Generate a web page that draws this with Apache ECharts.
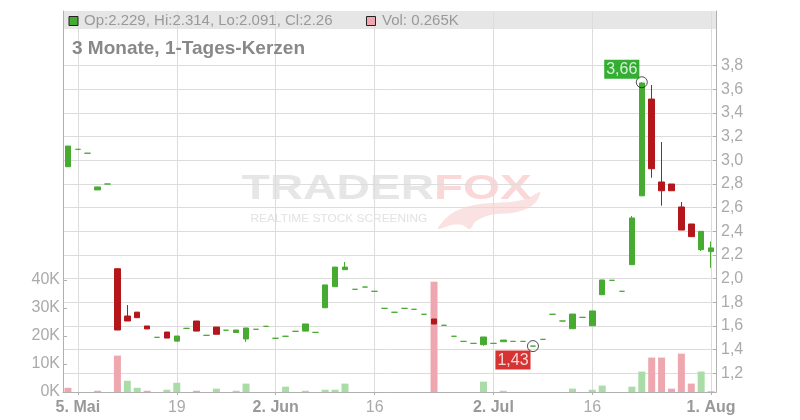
<!DOCTYPE html>
<html><head><meta charset="utf-8">
<script src="https://cdn.jsdelivr.net/npm/echarts@6/dist/echarts.min.js"></script>
<style>html,body{margin:0;padding:0;background:#fff}#c{width:800px;height:420px}</style>
</head><body><div id="c"></div>
<script>
// ---- DATA ----
const dates = [
 '2025-05-02',
 '2025-05-05','2025-05-06','2025-05-07','2025-05-08','2025-05-09',
 '2025-05-12','2025-05-13','2025-05-14','2025-05-15','2025-05-16',
 '2025-05-19','2025-05-20','2025-05-21','2025-05-22','2025-05-23',
 '2025-05-26','2025-05-27','2025-05-28','2025-05-29','2025-05-30',
 '2025-06-02','2025-06-03','2025-06-04','2025-06-05','2025-06-06',
 '2025-06-09','2025-06-10','2025-06-11','2025-06-12','2025-06-13',
 '2025-06-16','2025-06-17','2025-06-18','2025-06-19','2025-06-20',
 '2025-06-23','2025-06-24','2025-06-25','2025-06-26','2025-06-27',
 '2025-06-30','2025-07-01','2025-07-02','2025-07-03','2025-07-04',
 '2025-07-07','2025-07-08','2025-07-09','2025-07-10','2025-07-11',
 '2025-07-14','2025-07-15','2025-07-16','2025-07-17','2025-07-18',
 '2025-07-21','2025-07-22','2025-07-23','2025-07-24','2025-07-25',
 '2025-07-28','2025-07-29','2025-07-30','2025-07-31','2025-08-01'
];
const opens = [
 2.946,
 3.093,3.060,2.750,2.800,2.084,
 1.684,1.717,1.600,1.504,1.549,
 1.472,1.580,1.642,1.521,1.591,
 1.564,1.545,1.490,1.572,1.597,
 1.496,1.513,1.555,1.557,1.546,
 1.754,1.932,2.076,1.910,1.929,
 1.893,1.749,1.716,1.749,1.741,
 1.699,1.659,1.606,1.513,1.470,
 1.453,1.442,1.453,1.467,1.470,
 1.470,1.430,1.487,1.699,1.642,
 1.577,1.673,1.602,1.864,1.986,
 1.893,2.118,2.700,3.518,2.817,
 2.800,2.606,2.462,2.245,2.229
];
const closes = [
 3.121,
 3.093,3.060,2.775,2.800,1.566,
 1.642,1.670,1.575,1.504,1.498,
 1.515,1.580,1.557,1.521,1.530,
 1.564,1.566,1.583,1.572,1.597,
 1.496,1.513,1.555,1.617,1.546,
 1.947,2.098,2.098,1.910,1.929,
 1.893,1.749,1.716,1.749,1.741,
 1.699,1.617,1.606,1.513,1.470,
 1.453,1.507,1.453,1.481,1.470,
 1.470,1.430,1.487,1.699,1.642,
 1.701,1.673,1.727,1.989,1.986,
 1.893,2.513,3.654,2.929,2.743,
 2.743,2.411,2.355,2.400,2.260
];
const lows = [
 2.946,
 3.093,3.060,2.750,2.800,1.566,
 1.642,1.670,1.575,1.504,1.498,
 1.472,1.580,1.557,1.521,1.530,
 1.564,1.545,1.465,1.572,1.597,
 1.496,1.513,1.555,1.557,1.546,
 1.754,1.932,2.076,1.910,1.929,
 1.893,1.749,1.716,1.749,1.741,
 1.699,1.617,1.606,1.513,1.470,
 1.453,1.433,1.453,1.467,1.470,
 1.470,1.430,1.487,1.699,1.642,
 1.577,1.673,1.602,1.864,1.986,
 1.893,2.118,2.700,2.853,2.617,
 2.743,2.411,2.355,2.234,2.091
];
const highs = [
 3.121,
 3.093,3.060,2.775,2.800,2.084,
 1.777,1.717,1.600,1.504,1.549,
 1.515,1.580,1.642,1.521,1.591,
 1.564,1.566,1.583,1.572,1.597,
 1.496,1.513,1.555,1.617,1.546,
 1.947,2.098,2.141,1.910,1.929,
 1.893,1.749,1.716,1.749,1.741,
 1.699,1.659,1.606,1.513,1.470,
 1.453,1.507,1.453,1.481,1.470,
 1.470,1.430,1.487,1.699,1.642,
 1.701,1.673,1.727,1.989,1.986,
 1.893,2.530,3.660,3.637,3.155,
 2.800,2.648,2.462,2.400,2.314
];
// volume in thousands (K), split by bar colour group
const volumeDown = [
 ['2025-05-02',1.5],['2025-05-07',0.45],['2025-05-09',13.0],['2025-05-14',0.45],
 ['2025-05-21',0.45],['2025-06-24',39.4],['2025-07-24',12.3],['2025-07-25',12.3],
 ['2025-07-28',1.2],['2025-07-29',13.7],['2025-07-30',3.0],['2025-08-01',0.265]
];
const volumeUp = [
 ['2025-05-12',4.0],['2025-05-13',1.5],['2025-05-16',0.8],['2025-05-19',3.3],
 ['2025-05-23',1.2],['2025-05-27',0.45],['2025-05-28',3.0],['2025-06-03',1.9],
 ['2025-06-05',0.45],['2025-06-09',0.8],['2025-06-10',0.8],['2025-06-11',3.0],
 ['2025-07-01',3.7],['2025-07-03',0.45],['2025-07-14',1.2],['2025-07-16',0.8],
 ['2025-07-17',2.3],['2025-07-22',1.9],['2025-07-23',7.3],['2025-07-31',7.3]
];
const xTickDates  = ['2025-05-05','2025-05-19','2025-06-02','2025-06-16','2025-07-02','2025-07-16','2025-08-01'];
const xTickLabels = ['5. Mai','19','2. Jun','16','2. Jul','16','1. Aug'];
const highMark = ['2025-07-23', 3.66, '3,66'];
const lowMark  = ['2025-07-08', 1.43, '1,43'];
const legendText = 'Op:2.229, Hi:2.314, Lo:2.091, Cl:2.26';
const volText = 'Vol: 0.265K';
const titleText = '3 Monate, 1-Tages-Kerzen';

// ---- BUILD ----
const FONT = '"Liberation Sans", Arial, Helvetica, sans-serif';
const GREEN = '#47ab31', RED = '#b3171b', VPINK = '#eea7ae', VGREEN = '#aadca7';
const candleData = dates.map((d, i) => [opens[i], closes[i], lows[i], highs[i]]);
function fullArr(pairs) {
  const a = dates.map(() => null);
  pairs.forEach(p => { const i = dates.indexOf(p[0]); if (i >= 0) a[i] = p[1]; });
  return a;
}
const tickIdx = new Map();
xTickDates.forEach((d, j) => tickIdx.set(dates.indexOf(d), xTickLabels[j]));
const isTick = (i) => tickIdx.has(i);

const L = 63, R = 84, B = 28;
const chart = echarts.init(document.getElementById('c'), null, {renderer: 'canvas'});
const plainAxis = (pos) => ({
  gridIndex: 0, type: 'value', position: pos, min: 0, max: 1,
  axisLine: {show: true, lineStyle: {color: '#b0b0b0'}},
  axisTick: {show: false}, axisLabel: {show: false}, splitLine: {show: false}
});
const option = {
  animation: false,
  backgroundColor: '#fff',
  grid: [
    {left: L, right: R, top: 11, bottom: B, outerBoundsMode: 'none'},
    {left: L, right: R, top: 65.7, bottom: B, outerBoundsMode: 'none'},
    {left: L, right: R, top: 280, bottom: B, outerBoundsMode: 'none'}
  ],
  xAxis: [
    {
      type: 'category', gridIndex: 0, data: dates, boundaryGap: true,
      axisLine: {show: true, lineStyle: {color: '#b0b0b0'}},
      axisTick: {show: true, alignWithLabel: true, interval: (i) => isTick(i), length: 3, lineStyle: {color: '#b0b0b0'}},
      axisLabel: {
        interval: (i) => isTick(i), margin: 8,
        formatter: (v, i) => {
          const t = tickIdx.get(dates.indexOf(v));
          if (t === undefined) return '';
          return t.indexOf('.') >= 0 ? '{b|' + t + '}' : '{n|' + t + '}';
        },
        rich: {
          b: {fontFamily: FONT, fontSize: 16, fontWeight: 'bold', color: '#999'},
          n: {fontFamily: FONT, fontSize: 16, color: '#aaa'}
        }
      },
      splitLine: {show: true, alignWithLabel: true, interval: (i) => isTick(i), lineStyle: {color: '#dcdcdc'}}
    },
    {type: 'category', gridIndex: 1, data: dates, boundaryGap: true, show: false},
    {type: 'category', gridIndex: 2, data: dates, boundaryGap: true, show: false}
  ],
  yAxis: [
    plainAxis('left'),
    plainAxis('right'),
    {
      gridIndex: 1, type: 'value', position: 'right', min: 1.042, max: 3.8,
      minInterval: 0.2, maxInterval: 0.2,
      axisLine: {show: true, lineStyle: {color: '#b0b0b0'}},
      axisTick: {show: true, inside: true, length: 3, lineStyle: {color: '#b0b0b0'}},
      axisLabel: {
        showMinLabel: false, margin: 5, fontFamily: FONT, fontSize: 16, color: '#aaa',
        padding: [4, 0, 0, 0],
        formatter: (v) => (Math.abs(v / 0.2 - Math.round(v / 0.2)) < 1e-6) ? v.toFixed(1).replace('.', ',') : ''
      },
      splitLine: {show: true, lineStyle: {color: '#dcdcdc'}}
    },
    {
      gridIndex: 2, type: 'value', position: 'left', min: 0, max: 40, interval: 10,
      axisLine: {show: true, lineStyle: {color: '#b0b0b0'}},
      axisTick: {show: true, inside: true, length: 4, lineStyle: {color: '#b0b0b0'}},
      axisLabel: {margin: 3, fontFamily: FONT, fontSize: 16, color: '#aaa', padding: [5, 0, 0, 0], formatter: (v) => v + 'K'},
      splitLine: {show: false}
    }
  ],
  series: [
    {type: 'bar', name: 'volDown', xAxisIndex: 2, yAxisIndex: 3, data: fullArr(volumeDown),
     barWidth: 7, barGap: '-100%', itemStyle: {color: VPINK}, z: 1},
    {type: 'bar', name: 'volUp', xAxisIndex: 2, yAxisIndex: 3, data: fullArr(volumeUp),
     barWidth: 7, barGap: '-100%', itemStyle: {color: VGREEN}, z: 1},
    {type: 'candlestick', xAxisIndex: 1, yAxisIndex: 2, data: candleData, barWidth: 6, z: 3,
     itemStyle: {color: GREEN, color0: RED, borderColor: GREEN, borderColor0: RED, borderColorDoji: GREEN, borderWidth: 1}},
    {type: 'scatter', xAxisIndex: 1, yAxisIndex: 2, z: 5, symbol: 'circle', symbolSize: 11,
     itemStyle: {color: 'rgba(0,0,0,0)', borderColor: '#222', borderWidth: 1},
     label: {show: true, position: 'inside', formatter: (p) => p.data.lab, color: '#fff',
             fontFamily: FONT, fontSize: 16, lineHeight: 17, padding: [1, 2, 1, 2]},
     data: [
       {value: [dates.indexOf(highMark[0]), highMark[1]], lab: highMark[2],
        label: {offset: [-20, -13], backgroundColor: '#009a00'}},
       {value: [dates.indexOf(lowMark[0]), lowMark[1]], lab: lowMark[2],
        label: {offset: [-20, 14], backgroundColor: '#cc0000'}}
     ]}
  ],
  graphic: [
    {type: 'rect', z: -5, silent: true, shape: {x: L, y: 11, width: 800 - L - R, height: 18}, style: {fill: '#e6e6e6'}},
    {type: 'rect', z: 10, shape: {x: 69, y: 16.5, width: 9, height: 9}, style: {fill: GREEN, stroke: '#222', lineWidth: 1}},
    {type: 'text', z: 10, x: 84, y: 21, style: {text: legendText, fill: '#999', font: '15px ' + FONT, textAlign: 'left', textVerticalAlign: 'middle', verticalAlign: 'middle'}},
    {type: 'rect', z: 10, shape: {x: 366.5, y: 16.5, width: 9, height: 9}, style: {fill: VPINK, stroke: '#222', lineWidth: 1}},
    {type: 'text', z: 10, x: 382, y: 21, style: {text: volText, fill: '#999', font: '15px ' + FONT, textAlign: 'left', textVerticalAlign: 'middle', verticalAlign: 'middle'}},
    {type: 'text', z: 10, x: 72, y: 48.5, style: {text: titleText, fill: '#888', font: 'bold 19px ' + FONT, textAlign: 'left', textVerticalAlign: 'middle', verticalAlign: 'middle'}},
    {type: 'polygon', z: -3, silent: true,
     shape: {points: [[438,229],[446,218],[458,210],[474,205],[492,203],[510,202],[526,199],[540,192],[536,202],[526,209],[512,213],[496,214],[484,217],[475,222],[470,229],[462,225],[452,225]], smooth: 0.3},
     style: {fill: '#fbe2e2'}},
    {type: 'text', z: -2, silent: true, x: 241.5, y: 189.5, scaleX: 1.32, style: {text: 'TRADER', fill: '#e6e6e6', font: 'bold 35px ' + FONT, textAlign: 'left', textVerticalAlign: 'middle', verticalAlign: 'middle'}},
    {type: 'text', z: -2, silent: true, x: 434, y: 189.5, scaleX: 1.36, style: {text: 'FOX', fill: '#fbd8d8', font: 'bold 35px ' + FONT, textAlign: 'left', textVerticalAlign: 'middle', verticalAlign: 'middle'}},
    {type: 'text', z: -2, silent: true, x: 250.5, y: 219, scaleX: 1.19, style: {text: 'REALTIME STOCK SCREENING', fill: '#e2e2e2', font: '10px ' + FONT, textAlign: 'left', textVerticalAlign: 'middle', verticalAlign: 'middle'}}
  ]
};
chart.setOption(option);
</script>
</body></html>
